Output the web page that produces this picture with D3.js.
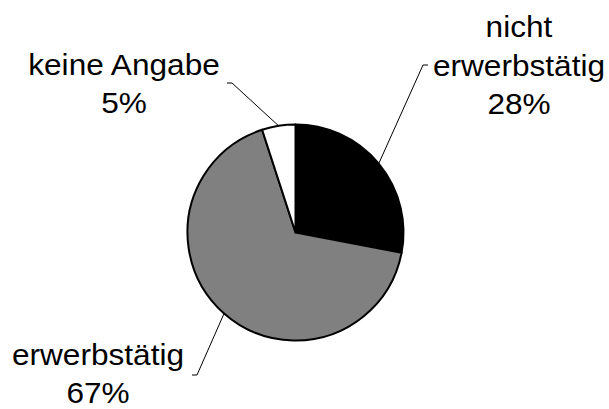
<!DOCTYPE html>
<html>
<head>
<meta charset="utf-8">
<script src="https://cdn.jsdelivr.net/npm/d3@7"></script>
<style>
  html, body { margin: 0; padding: 0; background: #fff; }
  svg { display: block; }
</style>
</head>
<body>
<script>
// chart data
var categories = ["nicht erwerbstätig", "erwerbstätig", "keine Angabe"];
var labelLines = [["nicht", "erwerbstätig"], ["erwerbstätig"], ["keine Angabe"]];
var values = [28, 67, 5];
var fills = ["#000000", "#808080", "#ffffff"];

// screen
var widthScr = 609;
var heightScr = 409;
var cx = 295.5, cy = 232.5, r = 108;

// where each label block sits (center x, baseline of last line) and leader elbow
var labelPos = [
  { x: 519, y: 114, elbow: [423, 65], tail: [428, 65] },
  { x: 98, y: 403, elbow: [197, 375], tail: [192, 375] },
  { x: 124, y: 113, elbow: [232, 83], tail: [227, 83] }
];
var lineGap = 38.5;
var fontSize = 29;
var stretch = 1.09;

var svg = d3.select("body").append("svg")
  .attr("width", widthScr)
  .attr("height", heightScr);

svg.append("rect")
  .attr("width", widthScr)
  .attr("height", heightScr)
  .attr("fill", "#fff");

var pie = d3.pie().sort(null).value(function(d) { return d; });
var arcs = pie(values);

var arc = d3.arc().innerRadius(0).outerRadius(r);
var edge = d3.arc().innerRadius(r).outerRadius(r);

var g = svg.append("g").attr("transform", "translate(" + cx + "," + cy + ")");

g.selectAll("path.slice")
  .data(arcs)
  .enter().append("path")
  .attr("class", "slice")
  .attr("d", arc)
  .attr("fill", function(d, i) { return fills[i]; })
  .attr("stroke", "#000")
  .attr("stroke-width", 2)
  .attr("stroke-linejoin", "round");

// leader lines
arcs.forEach(function(d, i) {
  var p = edge.centroid(d);
  var lp = labelPos[i];
  svg.append("polyline")
    .attr("points", [[cx + p[0], cy + p[1]], lp.elbow, lp.tail].map(function(q) { return q.join(","); }).join(" "))
    .attr("fill", "none")
    .attr("stroke", "#000")
    .attr("stroke-width", 1);
});

// labels
arcs.forEach(function(d, i) {
  var lines = labelLines[i].concat([values[i] + "%"]);
  var lp = labelPos[i];
  var n = lines.length;
  lines.forEach(function(t, k) {
    var y = lp.y - (n - 1 - k) * lineGap;
    svg.append("text")
      .attr("transform", "translate(" + lp.x + "," + y + ") scale(" + stretch + ",1)")
      .attr("text-anchor", "middle")
      .attr("font-family", "Liberation Sans, Arial, sans-serif")
      .attr("font-size", fontSize)
      .attr("fill", "#000")
      .text(t);
  });
});
</script>
</body>
</html>
